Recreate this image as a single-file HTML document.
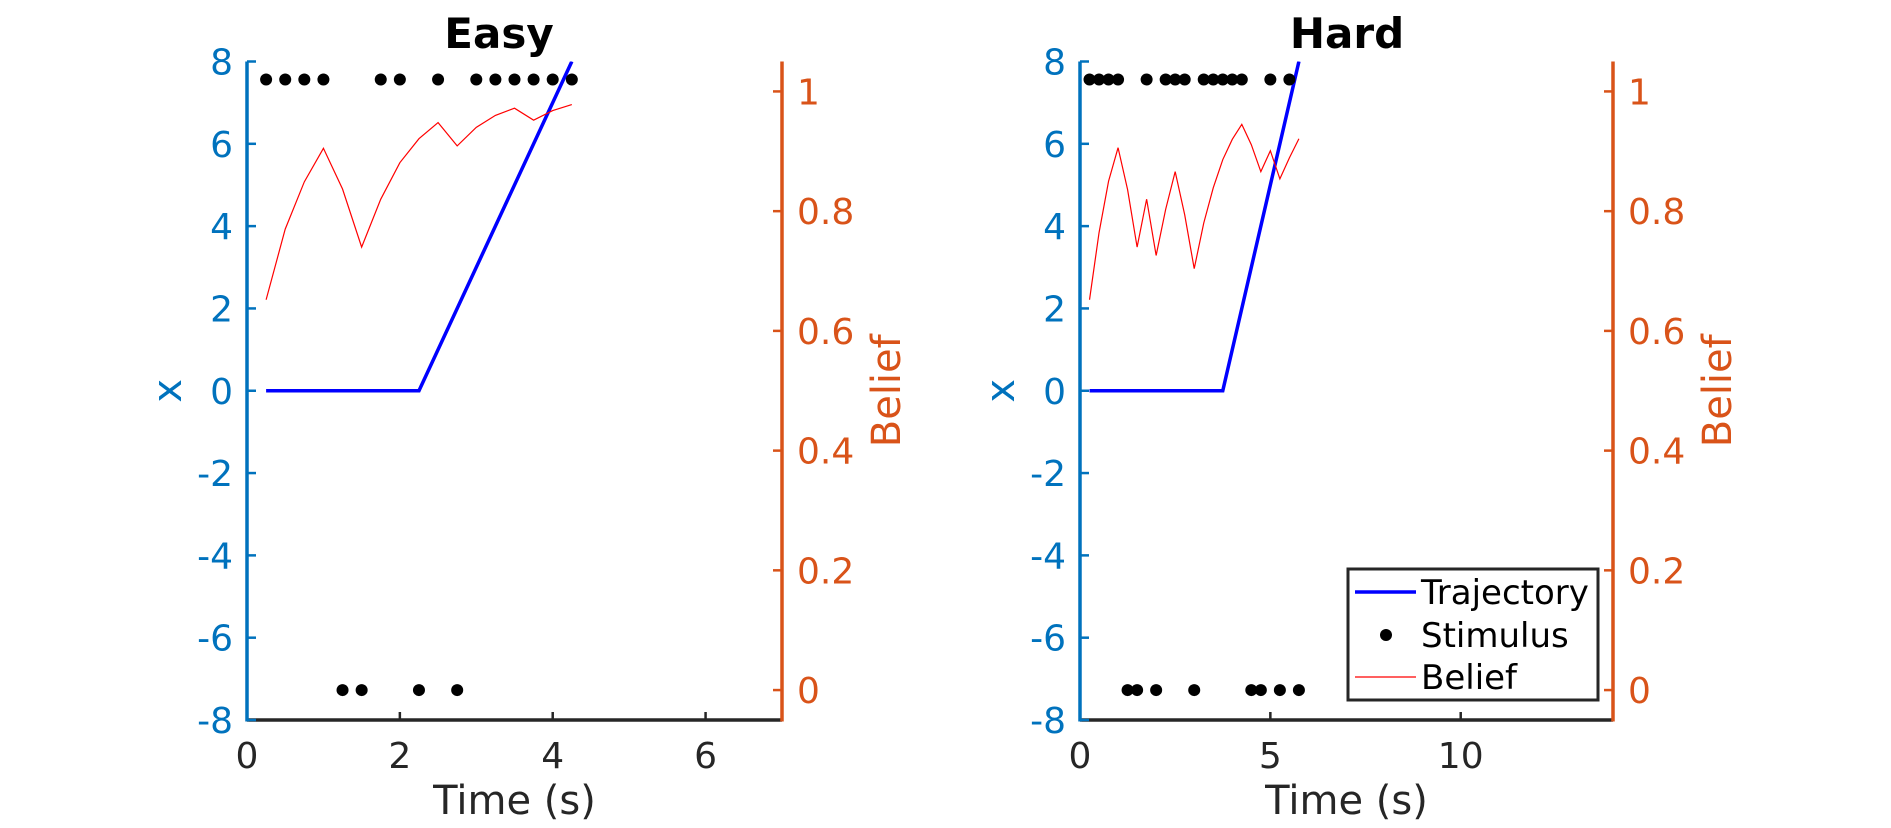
<!DOCTYPE html>
<html><head><meta charset="utf-8"><style>
html,body{margin:0;padding:0;background:#fff;}
svg{display:block;font-family:"DejaVu Sans","Liberation Sans",sans-serif;}
</style></head><body>
<svg id="chart" width="1891" height="828" viewBox="0 0 1891 828" xmlns="http://www.w3.org/2000/svg"></svg>
<script>
// ---- Easy panel data ----
const easyTimes = [0.25,0.5,0.75,1.0,1.25,1.5,1.75,2.0,2.25,2.5,2.75,3.0,3.25,3.5,3.75,4.0,4.25];
const easyBelief = [0.652,0.77,0.849,0.905,0.837,0.74,0.82,0.881,0.921,0.948,0.909,0.94,0.96,0.972,0.952,0.968,0.978];
const easyStimTop = [0.25,0.5,0.75,1.0,1.75,2.0,2.5,3.0,3.25,3.5,3.75,4.0,4.25];
const easyStimBottom = [1.25,1.5,2.25,2.75];
const easyTrajT = [0.25,2.25,4.25];
const easyTrajX = [0,0,8];
// ---- Hard panel data ----
const hardTimes = [0.25,0.5,0.75,1.0,1.25,1.5,1.75,2.0,2.25,2.5,2.75,3.0,3.25,3.5,3.75,4.0,4.25,4.5,4.75,5.0,5.25,5.5,5.75];
const hardBelief = [0.652,0.764,0.85,0.906,0.836,0.74,0.82,0.726,0.803,0.866,0.794,0.704,0.78,0.839,0.886,0.92,0.945,0.911,0.866,0.901,0.854,0.889,0.921];
const hardStimTop = [0.25,0.5,0.75,1.0,1.75,2.25,2.5,2.75,3.25,3.5,3.75,4.0,4.25,5.0,5.5];
const hardStimBottom = [1.25,1.5,2.0,3.0,4.5,4.75,5.25,5.75];
const hardTrajT = [0.25,3.75,5.75];
const hardTrajX = [0,0,8];
// ---- tick labels ----
const xTicksLeft = [-8,-6,-4,-2,0,2,4,6,8];
const beliefTicks = [0,0.2,0.4,0.6,0.8,1];
const easyTimeTicks = [0,2,4,6];
const hardTimeTicks = [0,5,10];
const stimLevels = [1.02, 0];

const svg = document.getElementById('chart');
const NS = 'http://www.w3.org/2000/svg';
function mk(tag, attrs, parent){
  const e = document.createElementNS(NS, tag);
  for (const k in attrs) e.setAttribute(k, attrs[k]);
  (parent||svg).appendChild(e);
  return e;
}
const BLUE='#0072BD', ORANGE='#D95319', DARK='#262626';
const Y0=61.5, Y1=720;
const TF=36;

function panel(opt){
  const g = mk('g', {});
  
  
  const L=opt.left, R=opt.right;
  const sx = t => L + (t - 0)/(opt.tmax) * (R-L);
  const sy = v => Y1 - (v + 8)/16 * (Y1-Y0);
  const sb = b => Y1 - (b + 0.05)/1.1 * (Y1-Y0);
  const title = mk('text', {x:opt.titleX, y:48, 'text-anchor':'middle', 'font-size':42, 'font-weight':'bold', fill:'#000'}, g);
  title.textContent = opt.title;
  
  
  const bx = mk('line', {x1:L, y1:Y1, x2:R, y2:Y1, stroke:DARK, 'stroke-width':3.5}, g);
  
  
  opt.timeTicks.forEach(t => {
    mk('line', {x1:sx(t), y1:Y1, x2:sx(t), y2:Y1-8, stroke:DARK, 'stroke-width':2.5}, g);
    const tl = mk('text', {x:sx(t), y:768, 'text-anchor':'middle', 'font-size':TF, fill:DARK}, g);
    tl.textContent = t;
    
    
  });
  const xt = mk('text', {x:(L+R)/2, y:814, 'text-anchor':'middle', 'font-size':40, fill:DARK}, g);
  xt.textContent = 'Time (s)';
  
  
  const la = mk('line', {x1:L, y1:Y0, x2:L, y2:Y1+1.5, stroke:BLUE, 'stroke-width':3.5}, g);
  
  
  xTicksLeft.forEach(v => {
    mk('line', {x1:L, y1:sy(v), x2:L+9, y2:sy(v), stroke:BLUE, 'stroke-width':2.5}, g);
    const tl = mk('text', {x:L-14, y:sy(v)+13, 'text-anchor':'end', 'font-size':TF, fill:BLUE}, g);
    tl.textContent = v;
    
    
  });
  const yl = mk('text', {x:0, y:0, 'text-anchor':'middle', 'font-size':40, fill:BLUE, transform:`translate(${L-66},${sy(0)}) rotate(-90)`}, g);
  yl.textContent = 'x';
  
  
  const ra = mk('line', {x1:R, y1:Y0, x2:R, y2:Y1+1.5, stroke:ORANGE, 'stroke-width':3.5}, g);
  
  
  beliefTicks.forEach(b => {
    mk('line', {x1:R, y1:sb(b), x2:R-9, y2:sb(b), stroke:ORANGE, 'stroke-width':2.5}, g);
    const tl = mk('text', {x:R+15, y:sb(b)+13, 'text-anchor':'start', 'font-size':TF, fill:ORANGE}, g);
    tl.textContent = b;
    
    
  });
  const rl = mk('text', {x:0, y:0, 'text-anchor':'middle', 'font-size':40, fill:ORANGE, transform:`translate(${R+118},${sy(0)}) rotate(-90)`}, g);
  rl.textContent = 'Belief';
  
  
  const cid = 'clip-'+opt.name;
  const cp = mk('clipPath', {id:cid}, g);
  mk('rect', {x:L, y:Y0, width:R-L, height:Y1-Y0}, cp);
  const tp = opt.trajT.map((t,i)=>`${sx(t)},${sy(opt.trajX[i])}`).join(' ');
  const tr = mk('polyline', {points:tp, fill:'none', stroke:'#0000FF', 'stroke-width':3.5, 'clip-path':`url(#${cid})`}, g);
  
  
  opt.stimTop.forEach(t => {
    const c = mk('circle', {cx:sx(t), cy:sb(stimLevels[0]), r:6, fill:'#000'}, g);
    
    
  });
  opt.stimBottom.forEach(t => {
    const c = mk('circle', {cx:sx(t), cy:sb(stimLevels[1]), r:6, fill:'#000'}, g);
    
    
  });
  const bp = opt.times.map((t,i)=>`${sx(t)},${sb(opt.belief[i])}`).join(' ');
  const bl = mk('polyline', {points:bp, fill:'none', stroke:'#FF0000', 'stroke-width':1.2}, g);
  
  
}

panel({name:'easy-panel', title:'Easy', titleX:499, left:247, right:782, tmax:7, timeTicks:easyTimeTicks,
  times:easyTimes, belief:easyBelief, stimTop:easyStimTop, stimBottom:easyStimBottom, trajT:easyTrajT, trajX:easyTrajX});
panel({name:'hard-panel', title:'Hard', titleX:1347, left:1080, right:1613, tmax:14, timeTicks:hardTimeTicks,
  times:hardTimes, belief:hardBelief, stimTop:hardStimTop, stimBottom:hardStimBottom, trajT:hardTrajT, trajX:hardTrajX});

const lg = mk('g', {});


mk('rect', {x:1348, y:569, width:250, height:131, fill:'#fff', stroke:DARK, 'stroke-width':3}, lg);
const e1 = mk('g', {}, lg);


mk('line', {x1:1355, y1:592, x2:1416, y2:592, stroke:'#0000FF', 'stroke-width':3.5}, e1);
const t1 = mk('text', {x:1421, y:604, 'font-size':34, fill:'#000'}, e1); t1.textContent='Trajectory';
const e2 = mk('g', {}, lg);


mk('circle', {cx:1386, cy:635, r:6, fill:'#000'}, e2);
const t2 = mk('text', {x:1421, y:647, 'font-size':34, fill:'#000'}, e2); t2.textContent='Stimulus';
const e3 = mk('g', {}, lg);


mk('line', {x1:1355, y1:677, x2:1416, y2:677, stroke:'#FF0000', 'stroke-width':1.2}, e3);
const t3 = mk('text', {x:1421, y:689, 'font-size':34, fill:'#000'}, e3); t3.textContent='Belief';
</script>
</body></html>
